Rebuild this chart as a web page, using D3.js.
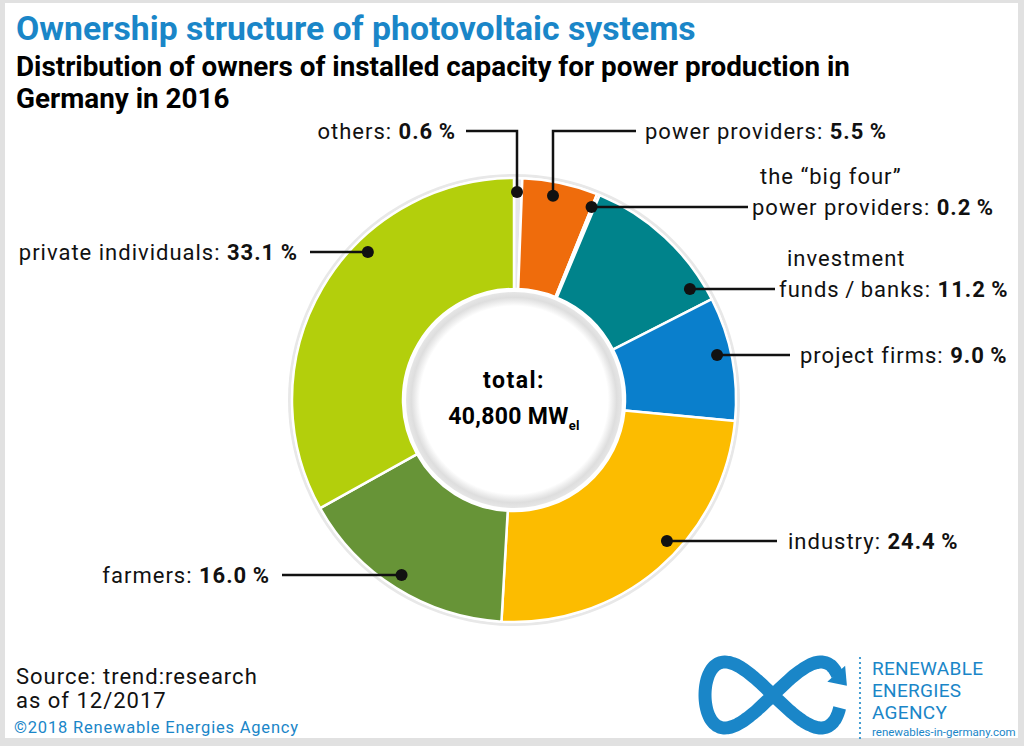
<!DOCTYPE html>
<html>
<head>
<meta charset="utf-8">
<script src="https://cdn.jsdelivr.net/npm/d3@7"></script>
<style>
  body { margin: 0; background: #fff; }
  svg { display: block; font-family: Roboto, "Open Sans", sans-serif; }
</style>
</head>
<body>
<div id="chart"></div>
<script>
// data
var owners = ["others", "power providers", "the \u201cbig four\u201d power providers", "investment funds / banks",
              "project firms", "industry", "farmers", "private individuals"];
var shares = [0.6, 5.5, 0.2, 11.2, 9.0, 24.4, 16.0, 33.1];
var labelLines = [
    ["others: "],
    ["power providers: "],
    ["the \u201cbig four\u201d", "power providers: "],
    ["investment", "funds\u2009/\u2009banks: "],
    ["project firms: "],
    ["industry: "],
    ["farmers: "],
    ["private individuals: "]
];
var totalLabel = "40,800 MW";

var colors = ["#e6e6ea", "#ef6c0c", "#f6c6a4", "#00838b", "#0a7fcc", "#fcbc00", "#679437", "#b3cf0c"];

// layout of the leader lines (kind, anchor for dot, end of line, text x)
var leaders = [
    {kind: "v", x: 517, y: 131, end: 466, tx: 456, anchor: "end"},
    {kind: "v", x: 553, y: 131, end: 636, tx: 645, anchor: "start"},
    {kind: "h", y: 207, end: 748, tx: [760, 752], anchor: "start"},
    {kind: "h", y: 289, end: 775, tx: [787, 779], anchor: "start"},
    {kind: "h", y: 355, end: 790, tx: 800, anchor: "start"},
    {kind: "h", y: 541, end: 777, tx: 788, anchor: "start"},
    {kind: "h", y: 575, end: 282, tx: 270, anchor: "end"},
    {kind: "h", y: 252, end: 310, tx: 298, anchor: "end"}
];

var width = 1024, height = 746;
var cx = 514, cy = 400, outerR = 222, innerR = 111, dotR = 208;
var blue = "#1a86c8";

var svg = d3.select("#chart").append("svg")
    .attr("width", width)
    .attr("height", height);

// frame
svg.append("rect").attr("width", width).attr("height", height).attr("fill", "#e1e1e1");
svg.append("rect").attr("x", 5).attr("y", 3).attr("width", 1013).attr("height", 735).attr("fill", "#fff");

// titles
var title = svg.append("text")
    .attr("x", 16).attr("y", 40)
    .attr("fill", blue)
    .attr("font-weight", 700)
    .attr("font-size", 29)
    .text("Ownership structure of photovoltaic systems");

var sub1 = svg.append("text")
    .attr("x", 16).attr("y", 76)
    .attr("font-weight", 700)
    .attr("font-size", 23)
    .text("Distribution of owners of installed capacity for power production in");
var sub2 = svg.append("text")
    .attr("x", 16).attr("y", 108)
    .attr("font-weight", 700)
    .attr("font-size", 23)
    .text("Germany in 2016");

// fit the title widths to the reference
function fitWidth(sel, target) {
    var w = sel.node().getComputedTextLength();
    var fs = +sel.attr("font-size");
    sel.attr("font-size", fs * target / w);
    return fs * target / w;
}
fitWidth(title, 680);
var subSize = fitWidth(sub1, 834);
sub2.attr("font-size", subSize);

// donut
var g = svg.append("g").attr("transform", `translate(${cx},${cy})`);

var defs = svg.append("defs");
var grad = defs.append("radialGradient").attr("id", "holeShade");
grad.append("stop").attr("offset", "0.87").attr("stop-color", "#fff");
grad.append("stop").attr("offset", "0.95").attr("stop-color", "#dedede");
grad.append("stop").attr("offset", "1").attr("stop-color", "#e6e6e6");

g.append("circle").attr("r", outerR + 4).attr("fill", "#e8e8e8");
g.append("circle").attr("r", outerR + 1).attr("fill", "#fff");

var pie = d3.pie().sort(null).value(d => d);
var arc = d3.arc().innerRadius(innerR).outerRadius(outerR);

var arcs = pie(shares);

g.selectAll(".slice")
    .data(arcs).enter()
    .append("path")
    .attr("class", "slice")
    .attr("d", arc)
    .attr("fill", (d, i) => colors[i])
    .attr("stroke", "#fff")
    .attr("stroke-width", 2.5)
    .attr("stroke-linejoin", "round");

g.append("circle").attr("r", innerR - 3).attr("fill", "url(#holeShade)");

// center text
g.append("text")
    .attr("y", -12)
    .attr("text-anchor", "middle")
    .attr("font-weight", 700)
    .attr("font-size", 23)
    .attr("letter-spacing", 1.5)
    .text("total:");
var tot = g.append("text")
    .attr("y", 24)
    .attr("text-anchor", "middle")
    .attr("font-weight", 700)
    .attr("font-size", 23)
    .attr("letter-spacing", 0.3);
tot.append("tspan").text(totalLabel);
tot.append("tspan").attr("font-size", 13).attr("dy", 6).text("el");

// leader lines and labels
var fmt = d3.format(".1f");
var lab = svg.append("g");

arcs.forEach(function (d, i) {
    var L = leaders[i];
    var dx, dy, pts;
    if (L.kind == "v") {
        dx = L.x;
        dy = cy - Math.sqrt(dotR * dotR - (L.x - cx) * (L.x - cx));
        pts = [[dx, dy], [dx, L.y], [L.end, L.y]];
    } else {
        var side = L.end > cx ? 1 : -1;
        dy = L.y;
        dx = cx + side * Math.sqrt(dotR * dotR - (L.y - cy) * (L.y - cy));
        pts = [[dx, dy], [L.end, L.y]];
    }
    lab.append("path")
        .attr("d", d3.line()(pts))
        .attr("fill", "none")
        .attr("stroke", "#111")
        .attr("stroke-width", 2.5);
    lab.append("circle")
        .attr("cx", dx).attr("cy", dy).attr("r", 6)
        .attr("fill", "#111");

    var lines = labelLines[i];
    lines.forEach(function (ln, j) {
        var last = j == lines.length - 1;
        var tx = Array.isArray(L.tx) ? L.tx[j] : L.tx;
        var t = lab.append("text")
            .attr("x", tx)
            .attr("y", L.y + 8 - (lines.length - 1 - j) * 31)
            .attr("text-anchor", L.anchor)
            .attr("font-size", 22)
            .attr("letter-spacing", 1)
            .attr("fill", "#111");
        t.append("tspan").text(ln);
        if (last) {
            t.append("tspan").attr("font-weight", 700).text(fmt(shares[i]) + "\u2009%");
        }
    });
});

// source
svg.append("text").attr("x", 16).attr("y", 684).attr("font-size", 22).attr("letter-spacing", 1)
    .attr("fill", "#111").text("Source: trend:research");
svg.append("text").attr("x", 16).attr("y", 708).attr("font-size", 22).attr("letter-spacing", 1)
    .attr("fill", "#111").text("as of 12/2017");
svg.append("text").attr("x", 14).attr("y", 733).attr("font-size", 16.5).attr("letter-spacing", 0.8)
    .attr("fill", blue).text("\u00a92018 Renewable Energies Agency");

// logo
var logo = svg.append("g").attr("transform", "translate(773,695)");
var tEnd = 2 * Math.PI - 0.32;
var loopPts = d3.range(0.2, tEnd, 0.04).map(function (t) {
    return [68 * Math.cos(t), 33 * Math.sin(2 * t)];
});
logo.append("path")
    .attr("d", d3.line().curve(d3.curveBasis)(loopPts))
    .attr("fill", "none")
    .attr("stroke", blue)
    .attr("stroke-width", 13)
    .attr("stroke-linecap", "butt");
var ex = 68 * Math.cos(tEnd), ey = 33 * Math.sin(2 * tEnd);
var ang = Math.atan2(66 * Math.cos(2 * tEnd), -68 * Math.sin(tEnd)) * 180 / Math.PI - 20;
logo.append("path")
    .attr("transform", `translate(${ex},${ey}) rotate(${ang})`)
    .attr("d", "M-2,-12 L14,0 L-2,12 Z")
    .attr("fill", blue);

var dots = svg.append("g");
d3.range(658, 740, 5).forEach(function (y) {
    dots.append("circle").attr("cx", 860).attr("cy", y).attr("r", 1.1).attr("fill", blue);
});
["RENEWABLE", "ENERGIES", "AGENCY"].forEach(function (w, i) {
    svg.append("text").attr("x", 872).attr("y", 675 + i * 22)
        .attr("font-size", 19).attr("letter-spacing", 0.3).attr("fill", blue).text(w);
});
svg.append("text").attr("x", 872).attr("y", 736).attr("font-size", 11.5).attr("fill", blue)
    .text("renewables-in-germany.com");
</script>
</body>
</html>
